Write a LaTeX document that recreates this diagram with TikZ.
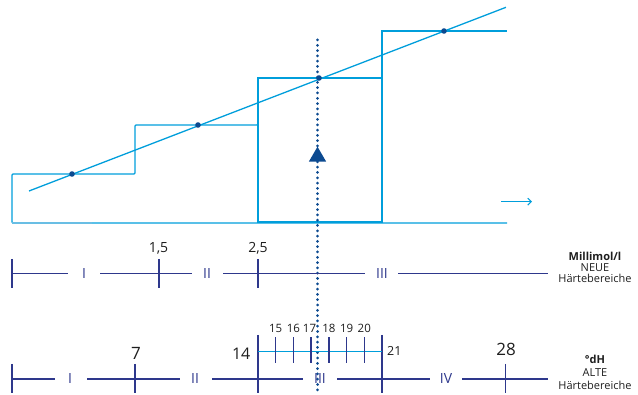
\documentclass[tikz,border=0pt]{standalone}
\usepackage{fontspec}
\setmainfont{Open Sans}
\usetikzlibrary{calc, arrows.meta}
\definecolor{wcyan}{RGB}{0,158,219}
\definecolor{wlight}{RGB}{105,190,228}
\definecolor{wdark}{RGB}{12,74,144}
\definecolor{wnavy}{RGB}{46,56,140}
\definecolor{wtext}{RGB}{30,30,30}

\begin{document}
\begin{tikzpicture}[x=1pt,y=-1pt,
    stair/.style={wcyan, line width=1.3pt},
    scalebar/.style={wnavy, line width=1.3pt},
    roman/.style={wnavy, inner sep=0pt, font=\fontsize{14}{14}\selectfont},
    numlabel/.style={wtext, inner sep=0pt, anchor=base},
    unitlabel/.style={wtext, inner sep=0pt, anchor=base, font=\fontsize{11}{11}\selectfont}]
    \useasboundingbox (0,0) rectangle (638,395);

    % steps and box
    \coordinate (s0) at (12,223);
    \coordinate (s1) at (135,174);
    \coordinate (s2) at (258,125);
    \coordinate (s3) at (382,78);
    \coordinate (s4) at (507,31);
    \draw[stair, rounded corners=1pt] (s0 -| s4) -- (s0) -- (s0 |- s1) -- (s1) -- (s1 |- s2) -- (s2) -- (s2 |- s3);
    \draw[wlight, line width=1.3pt] (s0) -- ($(s0)+(80,0)$);
    \draw[stair] (s2 |- s0) -- (s2 |- s3) -- (s3) -- (s3 |- s0);
    \draw[wcyan, line width=2pt] ($(s2 |- s0)+(0,-0.5)$) -- ($(s3 |- s0)+(0,-0.5)$);
    \draw[stair] (s3) -- (s3 |- s4) -- (s4);

    % regression line and points
    \coordinate (gA) at (29,191);
    \coordinate (gB) at (506,7.3);
    \draw[stair] (gA) -- (gB);
    \fill[wdark] (72,174) circle (2.8);
    \fill[wdark] (198,125) circle (2.8);
    \fill[wdark] (319,78) circle (2.8);
    \fill[wdark] (444,31) circle (2.8);

    \coordinate (arrA) at (501,201.7);
    \coordinate (arrB) at (532,201.7);
    \draw[wcyan, line width=1.1pt, -{Straight Barb[length=3.5pt, width=7pt]}] (arrA) -- (arrB);

    % measured value
    \coordinate (mv) at (317.5,40);
    \coordinate (mvEnd) at (317.5,395);
    \draw[wdark, line width=3pt, line cap=round, dash pattern=on 0pt off 5.3pt] (mv) -- (mvEnd);
    \fill[wdark] (317.5,146.7) -- (308.8,161.7) -- (326.2,161.7) -- cycle;

    % new ranges, mmol/l
    \coordinate (mA) at (12,273.3);
    \draw[scalebar] (mA) -- ($(mA)+(56,0)$);
    \draw[scalebar] (100,273.3) -- (191.7,273.3);
    \draw[scalebar] (223,273.3) -- (365,273.3);
    \draw[scalebar] (398,273.3) -- (548,273.3);
    \draw[scalebar] ($(mA)+(0,-14.5)$) -- ($(mA)+(0,14.5)$);
    \coordinate (m15) at (159,273.3);
    \draw[scalebar] ($(m15)+(0,-14.5)$) -- ($(m15)+(0,14.5)$);
    \coordinate (m25) at (258,273.3);
    \draw[scalebar] ($(m25)+(0,-14.5)$) -- ($(m25)+(0,14.5)$);
    \node[numlabel, font=\fontsize{14}{14}\selectfont] (l15) at (158.5,253) {1,5};
    \node[numlabel, font=\fontsize{14}{14}\selectfont] (l25) at (258,253) {2,5};
    \node[roman] (mI) at (84,273.3) {I};
    \node[roman] (mII) at (207,273.3) {II};
    \node[roman] (mIII) at (382,273.3) {III};

    \node[unitlabel, font=\fontsize{11}{11}\selectfont\bfseries] (mUnit) at (595,261) {Millimol/l};
    \node[unitlabel] (mNew) at (595,271.5) {NEUE};
    \node[unitlabel] (mRange) at (595,283) {Härtebereiche};

    % old ranges, dH
    \coordinate (dA) at (12,379);
    \draw[scalebar] (dA) -- ($(dA)+(43,0)$);
    \draw[scalebar] (87,379) -- (180,379);
    \draw[scalebar] (212,379) -- (303,379);
    \draw[scalebar] (337,379) -- (430,379);
    \draw[scalebar] (462,379) -- (548,379);
    \draw[scalebar] ($(dA)+(0,-15)$) -- ($(dA)+(0,14.5)$);
    \coordinate (d7) at (135,379);
    \draw[scalebar] ($(d7)+(0,-15)$) -- ($(d7)+(0,14.5)$);
    \coordinate (d14) at (258,379);
    \draw[scalebar] ($(d14)+(0,-44)$) -- ($(d14)+(0,14.5)$);
    \coordinate (d21) at (382,379);
    \draw[scalebar] ($(d21)+(0,-44)$) -- ($(d21)+(0,14.5)$);
    \coordinate (d28) at (505.5,379);
    \draw[scalebar] ($(d28)+(0,-15)$) -- ($(d28)+(0,14.5)$);
    \node[numlabel, font=\fontsize{17}{17}\selectfont] (l7) at (136,360) {7};
    \node[numlabel, font=\fontsize{16}{16}\selectfont, anchor=base east] (l14) at (250.5,360) {14};
    \node[numlabel, font=\fontsize{12.5}{12.5}\selectfont, anchor=base west] (l21) at (387,356) {21};
    \node[numlabel, font=\fontsize{17}{17}\selectfont] (l28) at (506,356) {28};
    \node[roman] (dI) at (70,379) {I};
    \node[roman] (dII) at (195,379) {II};
    \node[roman] (dIII) at (320,379) {III};
    \node[roman] (dIV) at (446,379) {IV};

    % fine scale 14 to 21
    \draw[wcyan, line width=1.3pt] (258,351.7) -- (382,351.7);
    \draw[scalebar] (275.7,337.3) -- (275.7,363.3);
    \draw[scalebar] (293.4,337.3) -- (293.4,363.3);
    \draw[scalebar] (311.1,337.3) -- (311.1,363.3);
    \draw[scalebar] (328.9,337.3) -- (328.9,363.3);
    \draw[scalebar] (346.6,337.3) -- (346.6,363.3);
    \draw[scalebar] (364.3,337.3) -- (364.3,363.3);
    \node[numlabel, font=\fontsize{11.5}{11.5}\selectfont] (f15) at (275.7,333) {15};
    \node[numlabel, font=\fontsize{11.5}{11.5}\selectfont] (f16) at (293.4,333) {16};
    \node[numlabel, font=\fontsize{11.5}{11.5}\selectfont] (f17) at (309.5,333) {17};
    \node[numlabel, font=\fontsize{11.5}{11.5}\selectfont] (f18) at (328.9,333) {18};
    \node[numlabel, font=\fontsize{11.5}{11.5}\selectfont] (f19) at (346.6,333) {19};
    \node[numlabel, font=\fontsize{11.5}{11.5}\selectfont] (f20) at (364.3,333) {20};

    \node[unitlabel, font=\fontsize{11}{11}\selectfont\bfseries] (dUnit) at (595,364) {°dH};
    \node[unitlabel] (dOld) at (595,377) {ALTE};
    \node[unitlabel] (dRange) at (595,390) {Härtebereiche};
\end{tikzpicture}
\end{document}
